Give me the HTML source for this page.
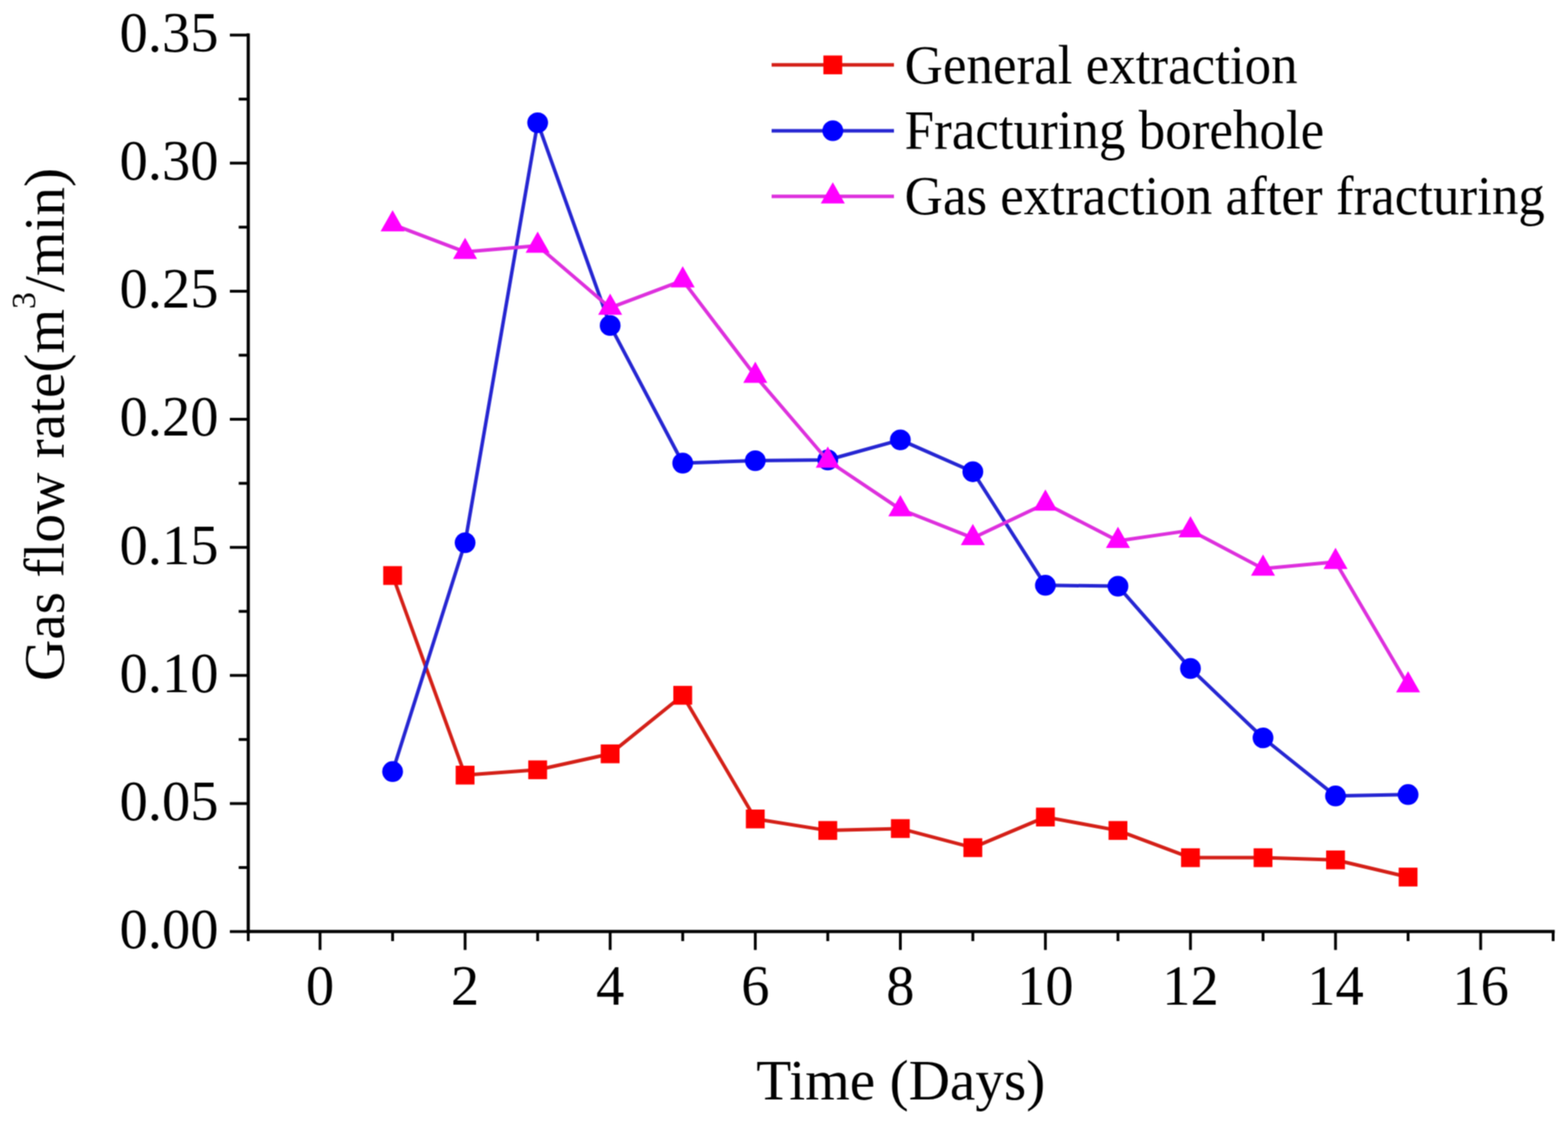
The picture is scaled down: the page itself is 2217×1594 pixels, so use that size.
<!DOCTYPE html>
<html><head><meta charset="utf-8"><title>Gas flow rate chart</title>
<style>html,body{margin:0;padding:0;background:#fff;width:2217px;height:1594px;overflow:hidden;}svg{display:block;}</style>
</head><body>
<svg width="2217" height="1594" viewBox="0 0 2217 1594">
<defs><filter id="soft" x="0" y="0" width="2217" height="1594" filterUnits="userSpaceOnUse" color-interpolation-filters="sRGB"><feConvolveMatrix order="3" kernelMatrix="1 2 1 2 4 2 1 2 1" divisor="16" edgeMode="duplicate"/></filter></defs>
<g filter="url(#soft)">
<rect width="2217" height="1594" fill="#fff"/>
<g stroke="#000" stroke-width="4.5" fill="none" stroke-linecap="square">
<line x1="351.0" y1="49.6" x2="351.0" y2="1317.6"/>
<line x1="351.0" y1="1317.6" x2="2196.0" y2="1317.6"/>
</g>
<g stroke="#000" stroke-width="4" fill="none">
<line x1="325.0" y1="1317.6" x2="351.0" y2="1317.6"/>
<line x1="337.5" y1="1227.0" x2="351.0" y2="1227.0"/>
<line x1="325.0" y1="1136.5" x2="351.0" y2="1136.5"/>
<line x1="337.5" y1="1045.9" x2="351.0" y2="1045.9"/>
<line x1="325.0" y1="955.3" x2="351.0" y2="955.3"/>
<line x1="337.5" y1="864.7" x2="351.0" y2="864.7"/>
<line x1="325.0" y1="774.2" x2="351.0" y2="774.2"/>
<line x1="337.5" y1="683.6" x2="351.0" y2="683.6"/>
<line x1="325.0" y1="593.0" x2="351.0" y2="593.0"/>
<line x1="337.5" y1="502.4" x2="351.0" y2="502.4"/>
<line x1="325.0" y1="411.9" x2="351.0" y2="411.9"/>
<line x1="337.5" y1="321.3" x2="351.0" y2="321.3"/>
<line x1="325.0" y1="230.7" x2="351.0" y2="230.7"/>
<line x1="337.5" y1="140.2" x2="351.0" y2="140.2"/>
<line x1="325.0" y1="49.6" x2="351.0" y2="49.6"/>
<line x1="351.0" y1="1317.6" x2="351.0" y2="1331.1"/>
<line x1="452.5" y1="1317.6" x2="452.5" y2="1343.6"/>
<line x1="555.1" y1="1317.6" x2="555.1" y2="1331.1"/>
<line x1="657.6" y1="1317.6" x2="657.6" y2="1343.6"/>
<line x1="760.2" y1="1317.6" x2="760.2" y2="1331.1"/>
<line x1="862.7" y1="1317.6" x2="862.7" y2="1343.6"/>
<line x1="965.3" y1="1317.6" x2="965.3" y2="1331.1"/>
<line x1="1067.9" y1="1317.6" x2="1067.9" y2="1343.6"/>
<line x1="1170.4" y1="1317.6" x2="1170.4" y2="1331.1"/>
<line x1="1273.0" y1="1317.6" x2="1273.0" y2="1343.6"/>
<line x1="1375.5" y1="1317.6" x2="1375.5" y2="1331.1"/>
<line x1="1478.1" y1="1317.6" x2="1478.1" y2="1343.6"/>
<line x1="1580.7" y1="1317.6" x2="1580.7" y2="1331.1"/>
<line x1="1683.2" y1="1317.6" x2="1683.2" y2="1343.6"/>
<line x1="1785.8" y1="1317.6" x2="1785.8" y2="1331.1"/>
<line x1="1888.3" y1="1317.6" x2="1888.3" y2="1343.6"/>
<line x1="1990.9" y1="1317.6" x2="1990.9" y2="1331.1"/>
<line x1="2093.5" y1="1317.6" x2="2093.5" y2="1343.6"/>
<line x1="2196.0" y1="1317.6" x2="2196.0" y2="1331.1"/>
</g>
<g font-family="Liberation Serif, Times New Roman, serif" font-size="80" fill="#000">
<text x="309" y="1340.9" text-anchor="end">0.00</text>
<text x="309" y="1159.8" text-anchor="end">0.05</text>
<text x="309" y="978.6" text-anchor="end">0.10</text>
<text x="309" y="797.5" text-anchor="end">0.15</text>
<text x="309" y="616.3" text-anchor="end">0.20</text>
<text x="309" y="435.2" text-anchor="end">0.25</text>
<text x="309" y="254.0" text-anchor="end">0.30</text>
<text x="309" y="72.9" text-anchor="end">0.35</text>
<text x="452.5" y="1420.5" text-anchor="middle">0</text>
<text x="657.6" y="1420.5" text-anchor="middle">2</text>
<text x="862.7" y="1420.5" text-anchor="middle">4</text>
<text x="1067.9" y="1420.5" text-anchor="middle">6</text>
<text x="1273.0" y="1420.5" text-anchor="middle">8</text>
<text x="1478.1" y="1420.5" text-anchor="middle">10</text>
<text x="1683.2" y="1420.5" text-anchor="middle">12</text>
<text x="1888.3" y="1420.5" text-anchor="middle">14</text>
<text x="2093.5" y="1420.5" text-anchor="middle">16</text>
</g>
<text x="1273.7" y="1555" text-anchor="middle" font-family="Liberation Serif, Times New Roman, serif" font-size="81">Time (Days)</text>
<text transform="translate(90,600.4) rotate(-90)" text-anchor="middle" font-family="Liberation Serif, Times New Roman, serif" font-size="81">Gas flow rate(m<tspan font-size="48" dy="-40">3</tspan><tspan dy="40">/min)</tspan></text>
<polyline points="555.1,814.0 657.6,1096.3 760.2,1088.8 862.7,1066.2 965.3,983.4 1067.9,1158.3 1170.4,1174.6 1273.0,1171.9 1375.5,1198.9 1478.1,1155.6 1580.7,1174.6 1683.2,1213.1 1785.8,1213.1 1888.3,1216.2 1990.9,1240.5" fill="none" stroke="#d42018" stroke-width="5" stroke-linejoin="round"/>
<rect x="541.8" y="800.7" width="26.6" height="26.6" fill="#f00"/>
<rect x="644.3" y="1083.0" width="26.6" height="26.6" fill="#f00"/>
<rect x="746.9" y="1075.5" width="26.6" height="26.6" fill="#f00"/>
<rect x="849.4" y="1052.9" width="26.6" height="26.6" fill="#f00"/>
<rect x="952.0" y="970.1" width="26.6" height="26.6" fill="#f00"/>
<rect x="1054.6" y="1145.0" width="26.6" height="26.6" fill="#f00"/>
<rect x="1157.1" y="1161.3" width="26.6" height="26.6" fill="#f00"/>
<rect x="1259.7" y="1158.6" width="26.6" height="26.6" fill="#f00"/>
<rect x="1362.2" y="1185.6" width="26.6" height="26.6" fill="#f00"/>
<rect x="1464.8" y="1142.3" width="26.6" height="26.6" fill="#f00"/>
<rect x="1567.4" y="1161.3" width="26.6" height="26.6" fill="#f00"/>
<rect x="1669.9" y="1199.8" width="26.6" height="26.6" fill="#f00"/>
<rect x="1772.5" y="1199.8" width="26.6" height="26.6" fill="#f00"/>
<rect x="1875.0" y="1202.9" width="26.6" height="26.6" fill="#f00"/>
<rect x="1977.6" y="1227.2" width="26.6" height="26.6" fill="#f00"/>
<polyline points="555.1,1091.3 657.6,767.6 760.2,173.6 862.7,460.4 965.3,655.0 1067.9,651.6 1170.4,650.5 1273.0,622.1 1375.5,667.2 1478.1,827.8 1580.7,829.1 1683.2,945.5 1785.8,1043.6 1888.3,1125.8 1990.9,1123.8" fill="none" stroke="#2626d2" stroke-width="5" stroke-linejoin="round"/>
<circle cx="555.1" cy="1091.3" r="14.7" fill="#00f"/>
<circle cx="657.6" cy="767.6" r="14.7" fill="#00f"/>
<circle cx="760.2" cy="173.6" r="14.7" fill="#00f"/>
<circle cx="862.7" cy="460.4" r="14.7" fill="#00f"/>
<circle cx="965.3" cy="655.0" r="14.7" fill="#00f"/>
<circle cx="1067.9" cy="651.6" r="14.7" fill="#00f"/>
<circle cx="1170.4" cy="650.5" r="14.7" fill="#00f"/>
<circle cx="1273.0" cy="622.1" r="14.7" fill="#00f"/>
<circle cx="1375.5" cy="667.2" r="14.7" fill="#00f"/>
<circle cx="1478.1" cy="827.8" r="14.7" fill="#00f"/>
<circle cx="1580.7" cy="829.1" r="14.7" fill="#00f"/>
<circle cx="1683.2" cy="945.5" r="14.7" fill="#00f"/>
<circle cx="1785.8" cy="1043.6" r="14.7" fill="#00f"/>
<circle cx="1888.3" cy="1125.8" r="14.7" fill="#00f"/>
<circle cx="1990.9" cy="1123.8" r="14.7" fill="#00f"/>
<polyline points="555.1,317.3 657.6,356.3 760.2,347.6 862.7,435.3 965.3,396.6 1067.9,531.6 1170.4,651.5 1273.0,720.3 1375.5,760.9 1478.1,712.2 1580.7,765.0 1683.2,750.1 1785.8,804.3 1888.3,794.8 1990.9,969.3" fill="none" stroke="#dd30dd" stroke-width="5" stroke-linejoin="round"/>
<polygon points="555.1,297.3 572.1,327.3 538.1,327.3" fill="#f0f"/>
<polygon points="657.6,336.3 674.6,366.3 640.6,366.3" fill="#f0f"/>
<polygon points="760.2,327.6 777.2,357.6 743.2,357.6" fill="#f0f"/>
<polygon points="862.7,415.3 879.7,445.3 845.7,445.3" fill="#f0f"/>
<polygon points="965.3,376.6 982.3,406.6 948.3,406.6" fill="#f0f"/>
<polygon points="1067.9,511.6 1084.9,541.6 1050.9,541.6" fill="#f0f"/>
<polygon points="1170.4,631.5 1187.4,661.5 1153.4,661.5" fill="#f0f"/>
<polygon points="1273.0,700.3 1290.0,730.3 1256.0,730.3" fill="#f0f"/>
<polygon points="1375.5,740.9 1392.5,770.9 1358.5,770.9" fill="#f0f"/>
<polygon points="1478.1,692.2 1495.1,722.2 1461.1,722.2" fill="#f0f"/>
<polygon points="1580.7,745.0 1597.7,775.0 1563.7,775.0" fill="#f0f"/>
<polygon points="1683.2,730.1 1700.2,760.1 1666.2,760.1" fill="#f0f"/>
<polygon points="1785.8,784.3 1802.8,814.3 1768.8,814.3" fill="#f0f"/>
<polygon points="1888.3,774.8 1905.3,804.8 1871.3,804.8" fill="#f0f"/>
<polygon points="1990.9,949.3 2007.9,979.3 1973.9,979.3" fill="#f0f"/>
<line x1="1091" y1="91.8" x2="1264" y2="91.8" stroke="#d42018" stroke-width="5"/>
<rect x="1164.2" y="78.5" width="26.6" height="26.6" fill="#f00"/>
<line x1="1091" y1="184.9" x2="1264" y2="184.9" stroke="#2626d2" stroke-width="5"/>
<circle cx="1177.5" cy="184.9" r="14.7" fill="#00f"/>
<line x1="1091" y1="277.8" x2="1264" y2="277.8" stroke="#dd30dd" stroke-width="5"/>
<polygon points="1177.5,257.8 1194.5,287.8 1160.5,287.8" fill="#f0f"/>
<g font-family="Liberation Serif, Times New Roman, serif" font-size="78.5" fill="#000">
<text transform="translate(1279,117.6) scale(0.955,1)">General extraction</text>
<text transform="translate(1279,209.9) scale(0.955,1)">Fracturing borehole</text>
<text transform="translate(1279,302.6) scale(0.955,1)">Gas extraction after fracturing</text>
</g>
</g>
</svg>
</body></html>
